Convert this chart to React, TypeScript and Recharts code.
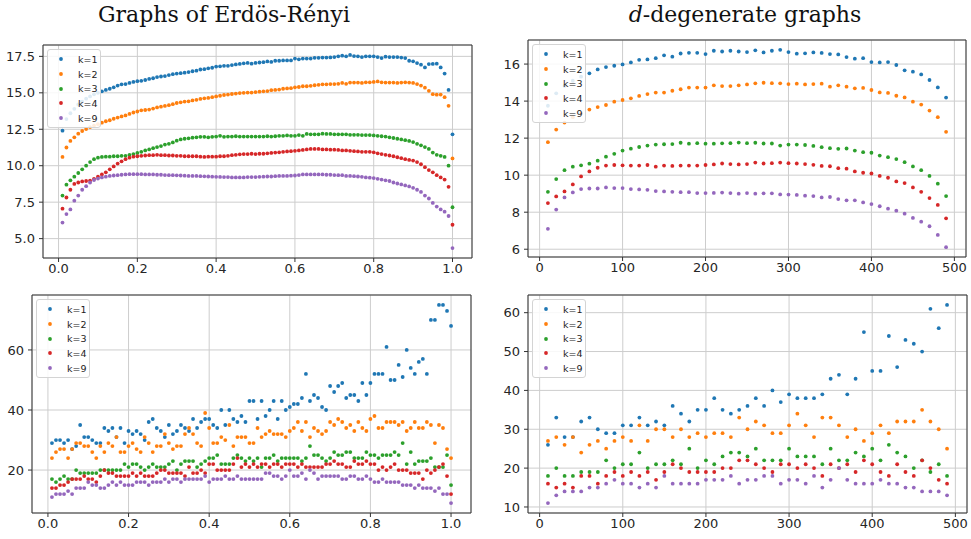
import { ScatterChart, Scatter, XAxis, YAxis, CartesianGrid, ReferenceArea, Legend } from "recharts";

const COLORS = ["#1f77b4", "#ff7f0e", "#2ca02c", "#d62728", "#9467bd"];
const LABELS = ["k=1", "k=2", "k=3", "k=4", "k=9"];

// x values: edge probability p for Erdös-Rényi, graph size n for d-degenerate
const erX = Array.from({ length: 100 }, (_, i) => +((i + 1) / 100).toFixed(2));
const degX = Array.from({ length: 49 }, (_, i) => (i + 1) * 10);

const erTicks = [0, 0.2, 0.4, 0.6, 0.8, 1.0];
const degTicks = [0, 100, 200, 300, 400, 500];

// top left: Erdös-Rényi, average
const erTopK1 = [12.4, 13.2, 13.6, 13.9, 14.2, 14.4, 14.6, 14.75, 14.9, 15.0,
  15.1, 15.2, 15.28, 15.38, 15.5, 15.58, 15.6, 15.68, 15.75, 15.8,
  15.82, 15.88, 15.95, 16.0, 16.08, 16.12, 16.15, 16.22, 16.28, 16.32,
  16.35, 16.38, 16.42, 16.48, 16.52, 16.6, 16.62, 16.68, 16.72, 16.8,
  16.82, 16.85, 16.85, 16.9, 16.95, 16.98, 17.02, 17.05, 17.0, 17.05,
  17.08, 17.1, 17.15, 17.12, 17.2, 17.2, 17.22, 17.22, 17.22, 17.35,
  17.3, 17.35, 17.35, 17.35, 17.4, 17.4, 17.42, 17.42, 17.43, 17.45,
  17.5, 17.55, 17.5, 17.6, 17.52, 17.5, 17.45, 17.5, 17.5, 17.5,
  17.45, 17.38, 17.48, 17.45, 17.45, 17.45, 17.42, 17.38, 17.2, 17.16,
  17.04, 16.93, 16.74, 16.97, 16.98, 17.0, 16.74, 16.32, 15.2, 12.15];
const erTopK2 = [10.6, 11.25, 11.7, 11.95, 12.2, 12.38, 12.52, 12.65, 12.75, 12.85,
  12.95, 13.05, 13.12, 13.22, 13.3, 13.38, 13.45, 13.55, 13.65, 13.72,
  13.8, 13.82, 13.85, 13.92, 14.0, 14.05, 14.1, 14.15, 14.22, 14.3,
  14.35, 14.4, 14.42, 14.48, 14.52, 14.58, 14.62, 14.65, 14.7, 14.75,
  14.8, 14.85, 14.88, 14.92, 14.95, 14.98, 15.0, 15.02, 15.02, 15.05,
  15.08, 15.1, 15.12, 15.18, 15.2, 15.22, 15.28, 15.3, 15.32, 15.38,
  15.4, 15.45, 15.45, 15.48, 15.52, 15.55, 15.58, 15.58, 15.6, 15.6,
  15.62, 15.68, 15.62, 15.7, 15.7, 15.7, 15.68, 15.72, 15.72, 15.75,
  15.78, 15.72, 15.7, 15.7, 15.7, 15.68, 15.7, 15.72, 15.7, 15.68,
  15.6, 15.5, 15.35, 15.14, 14.91, 14.87, 14.88, 14.7, 14.11, 10.5];
const erTopK3 = [7.95, 8.7, 9.0, 9.25, 9.5, 9.75, 10.0, 10.25, 10.45, 10.55,
  10.6, 10.62, 10.62, 10.65, 10.65, 10.68, 10.68, 10.75, 10.8, 10.88,
  10.95, 11.05, 11.12, 11.2, 11.28, 11.35, 11.45, 11.5, 11.6, 11.72,
  11.8, 11.85, 11.88, 11.92, 11.95, 11.98, 11.98, 11.95, 11.98, 12.0,
  12.05, 11.98, 12.0, 12.0, 12.02, 12.0, 12.0, 12.0, 12.0, 12.0,
  12.0, 12.0, 12.02, 12.0, 12.02, 12.05, 12.05, 12.08, 12.05, 12.05,
  12.1, 12.05, 12.18, 12.15, 12.15, 12.15, 12.2, 12.18, 12.18, 12.15,
  12.15, 12.15, 12.15, 12.12, 12.12, 12.12, 12.1, 12.1, 12.1, 12.08,
  12.05, 12.02, 12.0, 11.95, 11.9, 11.85, 11.8, 11.75, 11.7, 11.62,
  11.5, 11.4, 11.28, 11.15, 10.9, 10.75, 10.68, 10.6, 10.0, 7.15];
const erTopK4 = [7.05, 7.82, 8.35, 8.75, 8.85, 8.92, 8.95, 8.98, 9.1, 9.25,
  9.4, 9.55, 9.75, 9.95, 10.15, 10.3, 10.45, 10.55, 10.62, 10.65,
  10.68, 10.7, 10.72, 10.72, 10.75, 10.72, 10.72, 10.7, 10.7, 10.68,
  10.68, 10.65, 10.65, 10.65, 10.65, 10.62, 10.6, 10.62, 10.62, 10.62,
  10.65, 10.65, 10.68, 10.72, 10.75, 10.78, 10.8, 10.8, 10.82, 10.8,
  10.82, 10.82, 10.85, 10.88, 10.9, 10.92, 10.95, 10.98, 11.0, 11.02,
  11.05, 11.08, 11.12, 11.15, 11.15, 11.15, 11.12, 11.12, 11.1, 11.1,
  11.08, 11.05, 11.05, 11.02, 11.0, 10.98, 10.95, 10.95, 10.95, 10.92,
  10.85, 10.8, 10.75, 10.7, 10.65, 10.58, 10.52, 10.45, 10.4, 10.35,
  10.25, 10.1, 9.9, 9.7, 9.55, 9.35, 9.2, 9.05, 8.55, 5.95];
const erTopK9 = [6.1, 6.68, 7.0, 7.6, 7.95, 8.35, 8.6, 8.85, 9.02, 9.12,
  9.2, 9.25, 9.3, 9.33, 9.35, 9.38, 9.4, 9.42, 9.42, 9.42,
  9.42, 9.4, 9.4, 9.4, 9.38, 9.38, 9.36, 9.35, 9.35, 9.34,
  9.33, 9.32, 9.3, 9.3, 9.3, 9.28, 9.27, 9.26, 9.25, 9.24,
  9.23, 9.22, 9.22, 9.2, 9.2, 9.2, 9.2, 9.22, 9.22, 9.22,
  9.24, 9.25, 9.26, 9.26, 9.28, 9.3, 9.3, 9.3, 9.32, 9.33,
  9.36, 9.4, 9.4, 9.4, 9.4, 9.4, 9.4, 9.38, 9.38, 9.36,
  9.35, 9.35, 9.3, 9.3, 9.28, 9.26, 9.24, 9.2, 9.18, 9.15,
  9.1, 9.05, 9.0, 8.95, 8.85, 8.78, 8.72, 8.65, 8.58, 8.48,
  8.35, 8.2, 7.95, 7.75, 7.45, 7.2, 7.0, 6.85, 6.55, 4.35];

// top right: d-degenerate, average
const degTopK1 = [13.75, 14.42, 14.82, 15.1, 15.32, 15.5, 15.71, 15.84, 15.91, 15.98,
  16.09, 16.23, 16.25, 16.32, 16.47, 16.4, 16.57, 16.61, 16.61, 16.54,
  16.72, 16.68, 16.72, 16.68, 16.65, 16.74, 16.63, 16.72, 16.77, 16.65,
  16.56, 16.58, 16.63, 16.6, 16.54, 16.52, 16.38, 16.29, 16.32, 16.11,
  16.09, 16.11, 15.95, 15.66, 15.59, 15.44, 15.14, 14.74, 14.19];
const degTopK2 = [11.78, 12.46, 12.84, 13.13, 13.34, 13.54, 13.68, 13.79, 13.97, 14.06,
  14.15, 14.28, 14.38, 14.46, 14.46, 14.56, 14.64, 14.73, 14.73, 14.73,
  14.85, 14.81, 14.81, 14.85, 14.9, 14.96, 14.99, 14.97, 14.96, 14.92,
  14.94, 14.9, 14.92, 14.94, 14.78, 14.85, 14.78, 14.69, 14.71, 14.6,
  14.47, 14.44, 14.29, 14.2, 13.97, 13.81, 13.49, 13.13, 12.34];
const degTopK3 = [9.1, 9.79, 10.27, 10.46, 10.53, 10.62, 10.78, 11.0, 11.15, 11.33,
  11.43, 11.52, 11.6, 11.65, 11.67, 11.68, 11.75, 11.7, 11.73, 11.7,
  11.7, 11.72, 11.73, 11.76, 11.73, 11.75, 11.71, 11.71, 11.6, 11.65,
  11.65, 11.63, 11.58, 11.51, 11.46, 11.42, 11.44, 11.33, 11.24, 11.21,
  11.06, 10.97, 10.87, 10.7, 10.47, 10.27, 9.96, 9.54, 8.87];
const degTopK4 = [8.49, 8.85, 9.12, 9.5, 9.93, 10.2, 10.4, 10.52, 10.55, 10.53,
  10.52, 10.52, 10.55, 10.46, 10.52, 10.5, 10.52, 10.52, 10.52, 10.55,
  10.58, 10.63, 10.6, 10.58, 10.6, 10.68, 10.63, 10.65, 10.68, 10.65,
  10.63, 10.6, 10.56, 10.5, 10.48, 10.38, 10.35, 10.2, 10.13, 10.09,
  9.96, 9.86, 9.66, 9.57, 9.34, 9.1, 8.76, 8.39, 7.67];
const degTopK9 = [7.1, 8.14, 8.8, 9.07, 9.25, 9.28, 9.28, 9.34, 9.3, 9.3,
  9.25, 9.23, 9.21, 9.14, 9.12, 9.1, 9.08, 9.08, 9.03, 9.03,
  9.04, 9.06, 9.03, 9.0, 9.03, 9.0, 9.02, 9.02, 8.96, 8.95,
  8.93, 8.89, 8.87, 8.8, 8.82, 8.71, 8.64, 8.64, 8.53, 8.44,
  8.32, 8.19, 8.08, 7.92, 7.69, 7.49, 7.24, 6.77, 6.11];

// bottom left: Erdös-Rényi, maximum
const erBotK1 = [29, 30, 30, 29, 30, 27, 28, 35, 31, 31,
  30, 29, 29, 34, 33, 34, 31, 34, 29, 33,
  32, 33, 32, 30, 36, 37, 34, 33, 31, 35,
  32, 33, 35, 34, 33, 37, 34, 36, 37, 37,
  35, 34, 40, 35, 40, 37, 36, 38, 36, 43,
  43, 37, 43, 38, 40, 43, 37, 43, 40, 41,
  42, 42, 44, 52, 43, 45, 44, 41, 40, 48,
  46, 48, 49, 44, 45, 45, 43, 49, 45, 49,
  52, 52, 52, 61, 50, 50, 55, 51, 60, 54,
  52, 56, 57, 52, 70, 70, 75, 75, 73, 68];
const erBotK2 = [24, 26, 27, 27, 24, 27, 29, 29, 28, 28,
  26, 24, 28, 26, 29, 28, 31, 26, 26, 28,
  29, 27, 26, 31, 29, 26, 28, 28, 32, 29,
  27, 28, 28, 32, 34, 32, 29, 28, 39, 34,
  29, 29, 31, 30, 35, 28, 31, 31, 31, 29,
  29, 34, 31, 32, 33, 32, 32, 32, 31, 33,
  34, 36, 33, 36, 31, 34, 33, 32, 33, 36,
  35, 37, 36, 34, 35, 33, 36, 34, 33, 37,
  38, 34, 34, 36, 36, 36, 35, 36, 33, 34,
  36, 34, 34, 36, 35, 29, 35, 34, 27, 24];
const erBotK3 = [17, 16, 17, 18, 17, 17, 20, 19, 19, 19,
  19, 19, 20, 20, 20, 20, 20, 20, 22, 21,
  22, 22, 21, 20, 21, 22, 21, 21, 21, 22,
  23, 20, 22, 23, 23, 23, 21, 22, 23, 24,
  24, 25, 22, 22, 22, 24, 25, 24, 23, 24,
  23, 24, 21, 24, 24, 25, 23, 24, 24, 24,
  24, 24, 23, 24, 28, 25, 25, 24, 23, 24,
  26, 25, 25, 26, 26, 24, 24, 24, 26, 25,
  25, 24, 25, 25, 25, 26, 25, 29, 22, 26,
  22, 23, 23, 23, 24, 21, 21, 21, 25, 15];
const erBotK4 = [14, 14, 15, 15, 16, 17, 17, 17, 18, 17,
  17, 16, 18, 20, 19, 19, 18, 18, 18, 18,
  19, 18, 19, 18, 18, 18, 19, 20, 20, 19,
  19, 19, 19, 18, 21, 19, 19, 20, 19, 22,
  22, 20, 20, 20, 20, 22, 24, 21, 22, 21,
  22, 21, 22, 22, 21, 22, 22, 21, 22, 22,
  22, 21, 22, 21, 21, 21, 21, 21, 22, 22,
  23, 22, 22, 21, 21, 23, 22, 22, 23, 22,
  22, 20, 21, 20, 21, 22, 20, 20, 20, 19,
  19, 19, 17, 20, 19, 20, 21, 22, 18, 12];
const erBotK9 = [11, 12, 12, 12, 13, 12, 14, 14, 14, 16,
  15, 15, 14, 14, 15, 16, 15, 16, 15, 15,
  15, 16, 16, 16, 15, 16, 16, 16, 17, 16,
  17, 17, 16, 17, 17, 17, 17, 17, 18, 16,
  17, 17, 17, 18, 17, 17, 18, 17, 17, 17,
  17, 17, 17, 19, 19, 18, 18, 17, 18, 20,
  18, 18, 19, 17, 20, 19, 17, 18, 18, 18,
  18, 18, 17, 17, 18, 18, 17, 17, 18, 17,
  16, 16, 17, 16, 16, 16, 16, 15, 15, 15,
  14, 15, 14, 14, 14, 13, 14, 12, 12, 9];

// bottom right: d-degenerate, maximum
const degBotK1 = [26, 33, 28, 28, 32, 33, 30, 29, 29, 31,
  31, 33, 31, 32, 31, 36, 34, 32, 35, 35,
  38, 35, 34, 35, 36, 38, 36, 40, 37, 39,
  38, 38, 38, 39, 43, 44, 39, 43, 55, 45,
  45, 54, 46, 53, 52, 50, 61, 56, 62];
const degBotK2 = [27, 28, 26, 28, 24, 26, 27, 25, 27, 28,
  27, 31, 27, 30, 30, 28, 30, 28, 29, 28,
  29, 29, 28, 33, 30, 32, 31, 29, 29, 31,
  34, 31, 28, 33, 33, 31, 28, 30, 27, 29,
  31, 29, 32, 32, 32, 35, 32, 30, 25];
const degBotK3 = [18, 20, 18, 18, 19, 19, 19, 22, 20, 21,
  21, 24, 20, 21, 21, 22, 21, 25, 20, 22,
  21, 23, 24, 24, 23, 25, 22, 22, 22, 25,
  23, 23, 23, 21, 25, 22, 22, 24, 23, 25,
  22, 26, 24, 23, 20, 22, 19, 21, 18];
const degBotK4 = [16, 15, 16, 15, 18, 18, 16, 18, 19, 18,
  19, 18, 19, 17, 19, 21, 20, 19, 19, 19,
  19, 20, 20, 22, 22, 21, 20, 19, 21, 21,
  20, 21, 20, 18, 21, 20, 21, 19, 22, 21,
  19, 18, 21, 19, 18, 22, 20, 17, 16];
const degBotK9 = [11, 13, 14, 14, 14, 15, 15, 16, 17, 16,
  16, 15, 16, 15, 18, 16, 16, 16, 16, 17,
  17, 17, 18, 16, 17, 17, 18, 18, 16, 17,
  17, 16, 18, 15, 17, 20, 17, 16, 16, 16,
  17, 16, 16, 15, 15, 14, 14, 14, 13];

const toPoints = (xs: number[], ys: number[]) => xs.map((x, i) => ({ x, y: ys[i] }));

const FONT = "'DejaVu Sans', sans-serif";
const DOT_R = 1.9;

function LegendBox() {
  return (
    <div
      style={{
        background: "rgba(255,255,255,0.85)",
        border: "1px solid #d4d4d4",
        borderRadius: 3,
        width: 54,
        padding: "2px 0",
        fontFamily: FONT,
        fontSize: 9.5,
        color: "#222",
        boxSizing: "border-box",
      }}
    >
      {LABELS.map((l, i) => (
        <div key={l} style={{ height: 14.7, display: "flex", alignItems: "center" }}>
          <svg width={30} height={14} style={{ flexShrink: 0 }}>
            <circle cx={13} cy={7} r={DOT_R} fill={COLORS[i]} />
          </svg>
          <span>{l}</span>
        </div>
      ))}
    </div>
  );
}

interface PanelProps {
  left: number;
  top: number;
  width: number; // plot box width
  height: number; // plot box height
  xs: number[];
  series: number[][];
  xDomain: [number, number];
  yDomain: [number, number];
  xTicks: number[];
  yTicks: number[];
  xFmt: (v: number) => string;
  yFmt: (v: number) => string;
}

const Y_W = 45;
const X_H = 25;
const PAD = 5;

function Panel(p: PanelProps) {
  const W = p.width + Y_W + PAD;
  const H = p.height + X_H + PAD;
  return (
    <div style={{ position: "absolute", left: p.left - Y_W, top: p.top - PAD }}>
      <ScatterChart width={W} height={H} margin={{ top: PAD, right: PAD, bottom: 0, left: 0 }}>
        <CartesianGrid stroke="#cdcdcd" strokeWidth={1} />
        <XAxis
          dataKey="x"
          type="number"
          domain={p.xDomain}
          ticks={p.xTicks}
          allowDataOverflow
          height={X_H}
          axisLine={false}
          tickLine={{ stroke: "#333" }}
          tickSize={4}
          tickMargin={2}
          tickFormatter={p.xFmt}
          tick={{ fontSize: 13, fill: "#262626", fontFamily: FONT }}
          interval={0}
        />
        <YAxis
          dataKey="y"
          type="number"
          domain={p.yDomain}
          ticks={p.yTicks}
          allowDataOverflow
          width={Y_W}
          axisLine={false}
          tickLine={{ stroke: "#333" }}
          tickSize={4}
          tickMargin={4}
          tickFormatter={p.yFmt}
          tick={{ fontSize: 13, fill: "#262626", fontFamily: FONT }}
          interval={0}
        />
        <ReferenceArea
          x1={p.xDomain[0]}
          x2={p.xDomain[1]}
          y1={p.yDomain[0]}
          y2={p.yDomain[1]}
          fill="none"
          stroke="#333"
          strokeWidth={1}
          ifOverflow="visible"
        />
        {p.series.map((ys, i) => (
          <Scatter
            key={LABELS[i]}
            name={LABELS[i]}
            data={toPoints(p.xs, ys)}
            fill={COLORS[i]}
            isAnimationActive={false}
            shape={(s: any) => <circle cx={s.cx} cy={s.cy} r={DOT_R} fill={COLORS[i]} />}
          />
        ))}
        <Legend
          layout="horizontal"
          verticalAlign="middle"
          align="center"
          wrapperStyle={{ left: Y_W + 4, top: PAD + 4, width: 56, height: 78 }}
          content={<LegendBox />}
        />
      </ScatterChart>
    </div>
  );
}

const f1 = (v: number) => v.toFixed(1);
const f0 = (v: number) => String(v);

export default function App() {
  return (
    <div style={{ position: "fixed", left: 0, top: 0, width: 971, height: 539, background: "#fff", overflow: "hidden" }}>
      <div
        style={{
          position: "absolute",
          left: 24,
          width: 400,
          top: 2,
          textAlign: "center",
          fontFamily: "'DejaVu Serif', serif",
          fontSize: 22,
          color: "#111",
        }}
      >
        Graphs of Erdös-Rényi
      </div>
      <div
        style={{
          position: "absolute",
          left: 545,
          width: 400,
          top: 2,
          textAlign: "center",
          fontFamily: "'DejaVu Serif', serif",
          fontSize: 22,
          color: "#111",
        }}
      >
        <i>d</i>-degenerate graphs
      </div>
      <Panel
        left={43}
        top={45}
        width={429}
        height={213}
        xs={erX}
        series={[erTopK1, erTopK2, erTopK3, erTopK4, erTopK9]}
        xDomain={[-0.0395, 1.0495]}
        yDomain={[3.67, 18.28]}
        xTicks={erTicks}
        yTicks={[5, 7.5, 10, 12.5, 15, 17.5]}
        xFmt={f1}
        yFmt={f1}
      />
      <Panel
        left={528}
        top={40}
        width={438}
        height={217}
        xs={degX}
        series={[degTopK1, degTopK2, degTopK3, degTopK4, degTopK9]}
        xDomain={[-14, 514]}
        yDomain={[5.58, 17.3]}
        xTicks={degTicks}
        yTicks={[6, 8, 10, 12, 14, 16]}
        xFmt={f0}
        yFmt={f0}
      />
      <Panel
        left={32}
        top={295}
        width={439}
        height={218}
        xs={erX}
        series={[erBotK1, erBotK2, erBotK3, erBotK4, erBotK9]}
        xDomain={[-0.0395, 1.0495]}
        yDomain={[5.7, 78.3]}
        xTicks={erTicks}
        yTicks={[20, 40, 60]}
        xFmt={f1}
        yFmt={f0}
      />
      <Panel
        left={528}
        top={295}
        width={439}
        height={218}
        xs={degX}
        series={[degBotK1, degBotK2, degBotK3, degBotK4, degBotK9]}
        xDomain={[-14, 514]}
        yDomain={[8.45, 64.55]}
        xTicks={degTicks}
        yTicks={[10, 20, 30, 40, 50, 60]}
        xFmt={f0}
        yFmt={f0}
      />
    </div>
  );
}
